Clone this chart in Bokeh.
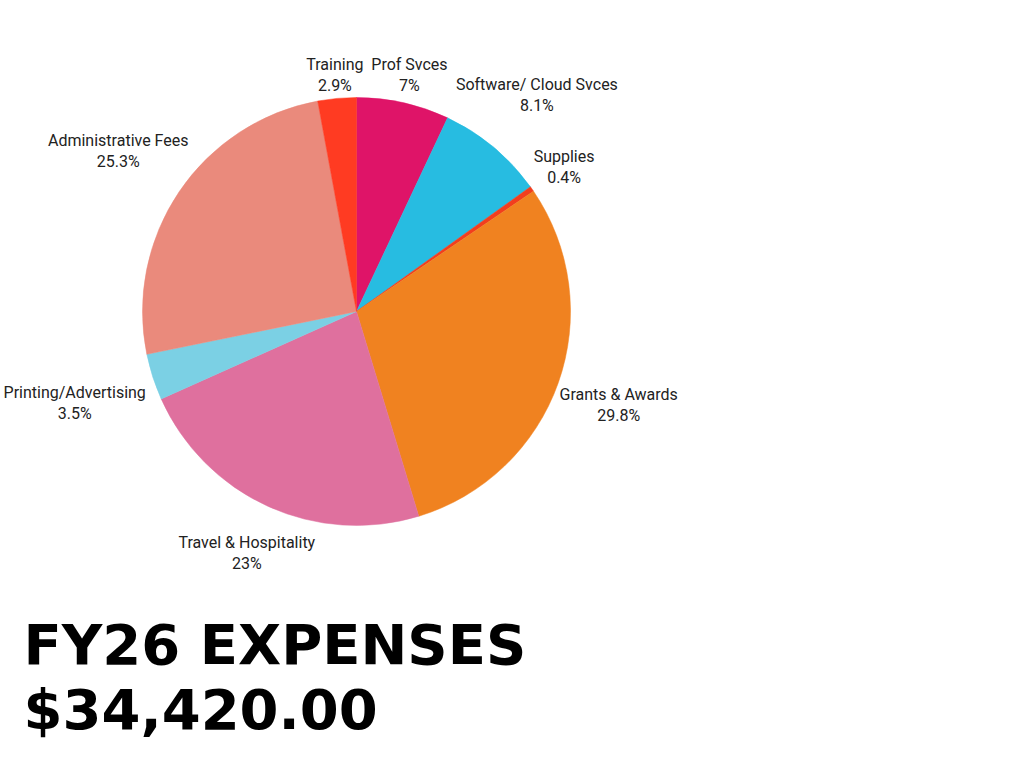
import math
from bokeh.plotting import figure
from bokeh.models import Range1d, ColumnDataSource
from bokeh.core.properties import value
from bokeh.embed import file_html
from bokeh.resources import INLINE

categories = ["Prof Svces", "Software/ Cloud Svces", "Supplies", "Grants & Awards",
              "Travel & Hospitality", "Printing/Advertising", "Administrative Fees", "Training"]
percents = [7.0, 8.1, 0.4, 29.8, 23.0, 3.5, 25.3, 2.9]
pct_labels = ["7%", "8.1%", "0.4%", "29.8%", "23%", "3.5%", "25.3%", "2.9%"]
colors = ["#DF1468", "#27BCE1", "#F23E1E", "#F08220", "#DF709E", "#7BD0E4", "#EA8A7C", "#FF3B22"]
title_lines = ["FY26 EXPENSES", "$34,420.00"]

W, H = 1008, 752
p = figure(width=W, height=H, output_backend="svg", toolbar_location=None,
           x_range=Range1d(0, W), y_range=Range1d(768 - H, 768),
           min_border=0, outline_line_color=None)
p.axis.visible = False
p.grid.visible = False
p.background_fill_color = "white"
p.border_fill_color = "white"

cx, cy, R = 356, 768 - 311, 214
total = sum(percents)
starts, ends, mids = [], [], []
cum = 0.0
for v in percents:
    a0 = math.pi / 2 - 2 * math.pi * cum / total
    cum += v
    a1 = math.pi / 2 - 2 * math.pi * cum / total
    starts.append(a0)
    ends.append(a1)
    mids.append((a0 + a1) / 2)

src = ColumnDataSource(dict(start=starts, end=ends, color=colors))
p.wedge(x=cx, y=cy, radius=R, start_angle="start", end_angle="end", direction="clock",
        fill_color="color", line_color="color", line_width=0.5, source=src)

# labels
gap = 6
char_w = 7.5
box_h = 30
lx, ly_name, ly_pct = [], [], []
for name, m in zip(categories, mids):
    w = len(name) * char_w
    d = R + gap + abs(math.cos(m)) * w / 2 + abs(math.sin(m)) * box_h / 2
    x = cx + d * math.cos(m)
    y = cy + d * math.sin(m)
    lx.append(x)
    ly_name.append(y + 10)
    ly_pct.append(y - 11)

lsrc = ColumnDataSource(dict(x=lx, yn=ly_name, yp=ly_pct, name=categories, pct=pct_labels))
p.text(x="x", y="yn", text="name", source=lsrc, text_align="center", text_baseline="middle",
       text_font=value("Roboto"), text_font_size="16px", text_color="#222222")
p.text(x="x", y="yp", text="pct", source=lsrc, text_align="center", text_baseline="middle",
       text_font=value("Roboto"), text_font_size="16px", text_color="#222222")

# title
p.text(x=[23, 23], y=[768 - 666 + 22, 768 - 731 + 22], text=title_lines, text_align="left",
       text_baseline="alphabetic", text_font=value("DejaVu Sans"), text_font_style="bold",
       text_font_size="56px", text_color="#000000")

open("out.html", "w").write(file_html(p, INLINE))
